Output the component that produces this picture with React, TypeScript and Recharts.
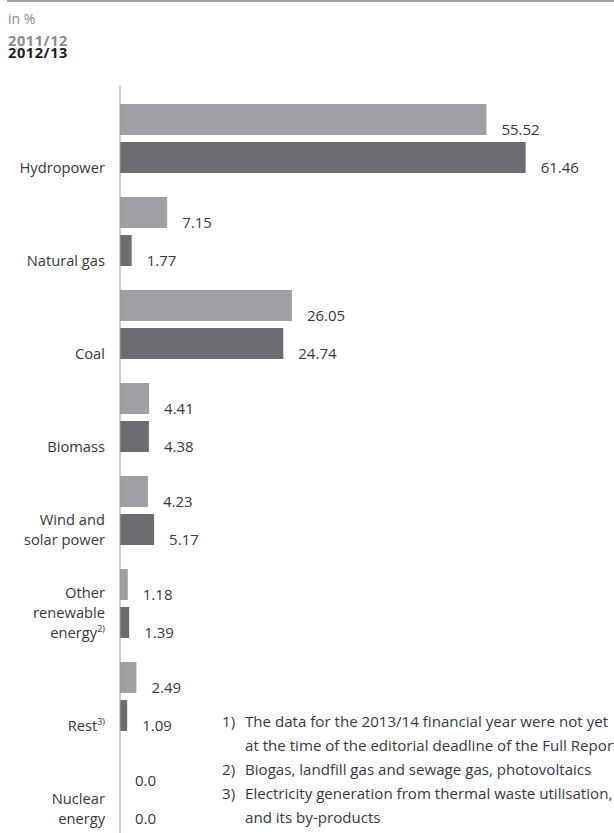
import { BarChart, Bar, XAxis, YAxis, LabelList } from "recharts";

const CATEGORIES = [
  ["Hydropower"],
  ["Natural gas"],
  ["Coal"],
  ["Biomass"],
  ["Wind and", "solar power"],
  ["Other", "renewable", "energy|2)"],
  ["Rest|3)"],
  ["Nuclear", "energy"],
];
const Y2011 = [55.52, 7.15, 26.05, 4.41, 4.23, 1.18, 2.49, 0.0];
const Y2012 = [61.46, 1.77, 24.74, 4.38, 5.17, 1.39, 1.09, 0.0];
const FOOTNOTES = [
  ["1)", "The data for the 2013/14 financial year were not yet"],
  ["", "at the time of the editorial deadline of the Full Report"],
  ["2)", "Biogas, landfill gas and sewage gas, photovoltaics"],
  ["3)", "Electricity generation from thermal waste utilisation,"],
  ["", "and its by-products"],
];

const FONT = "'Open Sans', sans-serif";
const TEXT = "#3a3a3c";
const LIGHT = "#9fa0a4";
const DARK = "#6c6d71";

const data = CATEGORIES.map((lines, i) => ({
  name: lines.join("\n"),
  y2011: Y2011[i],
  y2012: Y2012[i],
}));

const fmt = (v: number) => (v === 0 ? "0.0" : v.toFixed(2));

// category label: lines right aligned, last baseline on the bottom of the 2nd bar
function CatTick({ x, y, payload }: any) {
  const lines: string[] = String(payload.value).split("\n");
  const base = y + 34.5;
  return (
    <g>
      {lines.map((l, i) => {
        const [txt, sup] = l.split("|");
        return (
          <text key={i} x={x - 7} y={base - (lines.length - 1 - i) * 20} textAnchor="end"
            fontFamily={FONT} fontSize={14.7} fill={TEXT}>
            <tspan>{txt}</tspan>
            {sup && <tspan dy={-6} fontSize={9}>{sup}</tspan>}
          </text>
        );
      })}
    </g>
  );
}

function ValueLabel({ x, y, width, height, value }: any) {
  return (
    <text x={x + (width || 0) + 15} y={y + height} fontFamily={FONT} fontSize={15} fill={TEXT}>
      {fmt(Number(value))}
    </text>
  );
}

const yearStyle = { position: "absolute" as const, left: 8, height: 12, fontSize: 14.5, lineHeight: "12px", fontWeight: 700, letterSpacing: 0.6 };

export default function App() {
  return (
    <div style={{ position: "absolute", left: 0, top: 0, width: 614, height: 833, overflow: "hidden", fontFamily: FONT }}>
      <div style={{ position: "absolute", left: 7, top: 0, width: 607, height: 2, background: "#a0a0a4" }} />
      <div style={{ position: "absolute", left: 8, top: 9, fontSize: 14, color: "#8a8a8c" }}>in %</div>
      <div style={{ ...yearStyle, top: 35, color: "#8c8c90" }}>2011/12</div>
      <div style={{ ...yearStyle, top: 47, color: "#1e1e1e" }}>2012/13</div>
      <div style={{ position: "absolute", left: 0, top: 0 }}>
        <BarChart width={614} height={836} data={data} layout="vertical" barGap={7}
          margin={{ top: 86, right: 32, left: 0, bottom: 0 }}>
          <XAxis type="number" hide domain={[0, 70]} />
          <YAxis type="category" dataKey="name" width={120} padding={{ top: 6, bottom: 0 }}
            axisLine={{ stroke: "#9a9a9c" }} tickLine={false} tick={<CatTick />} interval={0} />
          <Bar dataKey="y2011" fill={LIGHT} barSize={31} minPointSize={0.01} isAnimationActive={false}>
            <LabelList dataKey="y2011" content={<ValueLabel />} />
          </Bar>
          <Bar dataKey="y2012" fill={DARK} barSize={31} minPointSize={0.01} isAnimationActive={false}>
            <LabelList dataKey="y2012" content={<ValueLabel />} />
          </Bar>
        </BarChart>
      </div>
      <div style={{ position: "absolute", left: 222, top: 709, fontSize: 15.1, lineHeight: "24px", color: TEXT, whiteSpace: "nowrap" }}>
        {FOOTNOTES.map(([n, t], i) => (
          <div key={i} style={{ display: "flex" }}>
            <span style={{ width: 23, display: "inline-block", flexShrink: 0 }}>{n}</span>
            <span>{t}</span>
          </div>
        ))}
      </div>
    </div>
  );
}
